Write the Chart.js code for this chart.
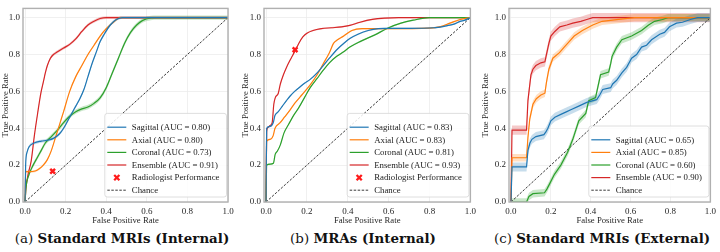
<!DOCTYPE html>
<html>
<head>
<meta charset="utf-8">
<script src="https://cdn.jsdelivr.net/npm/chart.js@4.4.1/dist/chart.umd.min.js"></script>
<style>
  body{margin:0;background:#fff;width:720px;height:252px;overflow:hidden;position:relative}
  .panel{position:absolute;top:0;width:240px;height:228px}
  .cap{position:absolute;top:230px;text-align:center;font-family:"DejaVu Serif",serif;font-size:13.4px;color:#111;white-space:nowrap}
</style>
</head>
<body>
<div class="panel" style="left:0"><canvas id="rocA"></canvas></div>
<div class="panel" style="left:240px"><canvas id="rocB"></canvas></div>
<div class="panel" style="left:480px"><canvas id="rocC"></canvas></div>
<div class="cap" id="capA" style="left:0;width:244px"></div>
<div class="cap" id="capB" style="left:246px;width:234px"></div>
<div class="cap" id="capC" style="left:484px;width:236px"></div>
<script>
// ---- data ----
const seriesNames = ['Sagittal', 'Axial', 'Coronal', 'Ensemble'];
const seriesColors = ['#1f77b4', '#ff7f0e', '#2ca02c', '#d62728'];
const axisTicks = [0, 0.2, 0.4, 0.6, 0.8, 1.0];
const capTags = ['(a)', '(b)', '(c)'];
const capTitles = ['Standard MRIs (Internal)', 'MRAs (Internal)', 'Standard MRIs (External)'];

// (a) Standard MRIs, internal
const aucA = [0.80, 0.80, 0.73, 0.91];
const bandA = [0.008, 0.006, 0.012, 0.008];
const radA = [0.136, 0.167];
const sagA_fpr = [0,0.003,0.01,0.02,0.045,0.08,0.11,0.14,0.17,0.19,0.22,0.25,0.27,0.29,0.31,0.33,0.35,0.37,0.39,0.42,0.45,0.48,1];
const sagA_tpr = [0,0.2,0.27,0.3,0.32,0.33,0.335,0.345,0.37,0.40,0.46,0.52,0.56,0.61,0.68,0.75,0.81,0.87,0.91,0.96,0.99,1,1];
const axA_fpr = [0,0.003,0.02,0.05,0.07,0.09,0.11,0.13,0.15,0.17,0.19,0.22,0.25,0.28,0.31,0.34,0.37,0.4,0.43,0.47,1];
const axA_tpr = [0,0.165,0.165,0.168,0.18,0.2,0.23,0.28,0.35,0.42,0.49,0.6,0.68,0.74,0.8,0.85,0.9,0.94,0.97,1,1];
const corA_fpr = [0,0.005,0.02,0.04,0.06,0.08,0.1,0.13,0.16,0.19,0.22,0.25,0.28,0.31,0.34,0.37,0.4,0.43,0.46,0.49,0.52,0.55,0.58,0.62,0.65,1];
const corA_tpr = [0,0.08,0.15,0.2,0.24,0.28,0.32,0.355,0.39,0.43,0.465,0.49,0.505,0.515,0.535,0.565,0.62,0.7,0.78,0.86,0.92,0.96,0.985,0.998,1,1];
const ensA_fpr = [0,0.005,0.015,0.03,0.046,0.062,0.078,0.09,0.1,0.11,0.125,0.14,0.16,0.19,0.22,0.25,0.28,0.31,0.34,0.37,0.4,1];
const ensA_tpr = [0,0.08,0.15,0.22,0.36,0.48,0.59,0.65,0.7,0.74,0.78,0.8,0.815,0.835,0.855,0.885,0.925,0.96,0.98,0.995,1,1];

// (b) MRAs, internal
const aucB = [0.83, 0.83, 0.81, 0.93];
const bandB = [0.004, 0.004, 0.004, 0.004];
const radB = [0.142, 0.826];
const sagB_fpr = [0,0.003,0.02,0.035,0.044,0.06,0.08,0.1,0.118,0.14,0.167,0.19,0.216,0.25,0.28,0.31,0.35,0.38,0.41,0.45,0.5,0.55,0.6,0.7,0.82,0.88,0.92,0.95,0.97,1];
const sagB_tpr = [0,0.4,0.41,0.43,0.47,0.49,0.52,0.55,0.575,0.6,0.625,0.645,0.665,0.7,0.74,0.78,0.83,0.86,0.887,0.91,0.93,0.94,0.942,0.942,0.945,0.955,0.965,0.98,0.985,1];
const axB_fpr = [0,0.003,0.02,0.035,0.044,0.069,0.09,0.118,0.14,0.167,0.19,0.216,0.25,0.28,0.31,0.33,0.35,0.38,0.42,0.47,0.6,0.8,0.85,0.9,0.95,1];
const axB_tpr = [0,0.33,0.34,0.36,0.40,0.43,0.46,0.5,0.535,0.57,0.6,0.635,0.69,0.75,0.81,0.86,0.88,0.9,0.93,0.94,0.94,0.943,0.95,0.97,0.99,1];
const corB_fpr = [0,0.003,0.02,0.036,0.045,0.055,0.07,0.088,0.11,0.135,0.161,0.19,0.216,0.25,0.28,0.31,0.346,0.38,0.41,0.46,0.53,0.6,0.66,0.72,0.8,1];
const corB_tpr = [0,0.2,0.205,0.21,0.26,0.275,0.31,0.375,0.42,0.47,0.513,0.57,0.62,0.67,0.715,0.755,0.79,0.815,0.84,0.87,0.905,0.945,0.97,0.986,1,1];
const ensB_fpr = [0,0.003,0.01,0.02,0.03,0.038,0.045,0.06,0.07,0.085,0.1,0.118,0.13,0.145,0.16,0.18,0.2,0.23,0.27,0.32,0.37,0.41,0.46,0.52,0.58,0.65,1];
const ensB_tpr = [0,0.38,0.405,0.415,0.43,0.53,0.565,0.59,0.64,0.69,0.73,0.77,0.795,0.826,0.86,0.895,0.915,0.93,0.94,0.945,0.95,0.958,0.975,0.99,0.997,1,1];

// (c) Standard MRIs, external
const aucC = [0.65, 0.85, 0.60, 0.90];
const bandC = [0.024, 0.02, 0.02, 0.025];
const sagC_fpr = [0,0.005,0.01,0.078,0.085,0.095,0.105,0.125,0.165,0.175,0.185,0.2,0.22,0.25,0.28,0.3,0.34,0.38,0.43,0.445,0.46,0.5,0.51,0.53,0.556,0.58,0.605,0.63,0.655,0.68,0.705,0.746,0.77,0.795,0.83,0.86,0.9,0.935,1];
const sagC_tpr = [0,0.19,0.19,0.19,0.28,0.32,0.34,0.355,0.365,0.38,0.4,0.44,0.46,0.475,0.49,0.5,0.52,0.54,0.555,0.58,0.61,0.62,0.64,0.66,0.7,0.73,0.78,0.8,0.84,0.85,0.88,0.91,0.92,0.95,0.97,0.975,0.99,1,1];
const axC_fpr = [0,0.005,0.01,0.078,0.085,0.094,0.11,0.127,0.15,0.17,0.178,0.19,0.21,0.243,0.267,0.284,0.317,0.358,0.41,0.457,0.54,0.62,1];
const axC_tpr = [0,0.24,0.24,0.24,0.35,0.45,0.53,0.56,0.58,0.59,0.65,0.72,0.78,0.81,0.84,0.86,0.9,0.93,0.96,0.98,0.99,1,1];
const corC_fpr = [0,0.078,0.09,0.11,0.168,0.18,0.193,0.218,0.25,0.284,0.31,0.34,0.375,0.39,0.424,0.435,0.449,0.49,0.5,0.507,0.53,0.556,0.605,0.655,0.69,0.72,0.76,0.787,1];
const corC_tpr = [0,0,0.03,0.045,0.05,0.07,0.097,0.15,0.2,0.27,0.34,0.44,0.48,0.55,0.566,0.62,0.69,0.705,0.75,0.79,0.84,0.88,0.9,0.93,0.96,0.98,0.99,1,1];
const ensC_fpr = [0,0.005,0.01,0.078,0.085,0.1,0.11,0.125,0.15,0.17,0.178,0.19,0.2,0.22,0.245,0.28,0.31,0.35,0.38,0.41,1];
const ensC_tpr = [0,0.39,0.39,0.39,0.55,0.69,0.72,0.74,0.755,0.76,0.8,0.86,0.9,0.925,0.95,0.96,0.97,0.98,0.99,1,1];

const chanceLine = [[0, 1], [0, 1]];

// ---- drawing ----
const serif = '"Liberation Serif", "Times New Roman", serif';
const tickFont = {family: serif, size: 9};
const labelFont = {family: serif, size: 8.7};
const pts = (xs, ys, d=0) => xs.map((x,i)=> ({x, y: ys[i] + d}));

const rocLegend = {
  id: 'rocLegend',
  afterDatasetsDraw(chart, args, opts){
    const ctx = chart.ctx, a = chart.chartArea;
    const items = opts.items, rowH = 12.6;
    ctx.save();
    ctx.font = '8.8px ' + serif;
    const tw = Math.max(...items.map(it=> ctx.measureText(it.text).width));
    const w = 27 + tw + 7, h = 8 + rowH*items.length;
    const x0 = a.right - 1.5 - w, y0 = a.bottom - 5 - h;
    ctx.fillStyle = 'rgba(255,255,255,0.85)';
    ctx.strokeStyle = '#d6d6d6';
    ctx.lineWidth = 0.8;
    ctx.beginPath(); ctx.roundRect(x0, y0, w, h, 2.5); ctx.fill(); ctx.stroke();
    items.forEach((it,i)=>{
      const cy = y0 + 7.5 + rowH*(i+0.5);
      ctx.save();
      if (it.kind === 'marker'){
        ctx.strokeStyle = it.color; ctx.lineWidth = 2.3;
        const cx = x0 + 12, r = 2.6;
        ctx.beginPath();
        ctx.moveTo(cx-r, cy-r); ctx.lineTo(cx+r, cy+r);
        ctx.moveTo(cx+r, cy-r); ctx.lineTo(cx-r, cy+r);
        ctx.stroke();
      } else {
        ctx.strokeStyle = it.color; ctx.lineWidth = it.kind === 'dash' ? 0.9 : 1.2;
        if (it.kind === 'dash') ctx.setLineDash([2.5, 1.5]);
        ctx.beginPath(); ctx.moveTo(x0+2.5, cy); ctx.lineTo(x0+21.5, cy); ctx.stroke();
      }
      ctx.restore();
      ctx.fillStyle = '#222'; ctx.textBaseline = 'middle';
      ctx.fillText(it.text, x0 + 27, cy + 0.5);
    });
    ctx.restore();
  }
};

const frame = {
  id: 'frame',
  afterDraw(chart){
    const ctx = chart.ctx, a = chart.chartArea;
    ctx.save();
    ctx.strokeStyle = '#b0b0b0'; ctx.lineWidth = 1.4;
    ctx.strokeRect(a.left, a.top, a.right - a.left, a.bottom - a.top);
    ctx.restore();
  }
};

function buildRoc(canvasId, curves, auc, band, rad, smooth, areaLeft, areaRight){
  const datasets = [];
  const items = [];
  curves.forEach((c,i)=>{
    const col = seriesColors[i];
    const interp = smooth ? {cubicInterpolationMode: 'monotone'} : {tension: 0};
    datasets.push({data: pts(c[0], c[1], band[i]), borderWidth: 0, pointRadius: 0, fill: false, order: 5, ...interp});
    datasets.push({data: pts(c[0], c[1], -band[i]), borderWidth: 0, pointRadius: 0, fill: '-1',
      backgroundColor: col + '40', order: 5, ...interp});
    datasets.push({data: pts(c[0], c[1]), borderColor: col, borderWidth: 1.2, pointRadius: 0, fill: false, order: 1, ...interp});
    items.push({text: `${seriesNames[i]} (AUC = ${auc[i].toFixed(2)})`, color: col, kind: 'line'});
  });
  if (rad){
    datasets.push({data: [{x: rad[0], y: rad[1]}], showLine: false, pointStyle: 'crossRot',
      pointRadius: 3.4, pointBorderWidth: 2.4, pointBorderColor: '#ff1a1a', pointBackgroundColor: '#ff1a1a', order: 0});
    items.push({text: 'Radiologist Performance', color: '#ff1a1a', kind: 'marker'});
  }
  datasets.push({data: pts(chanceLine[0], chanceLine[1]), borderColor: '#222', borderWidth: 0.9,
    borderDash: [2.5, 1.5], pointRadius: 0, fill: false, order: 2});
  items.push({text: 'Chance', color: '#222', kind: 'dash'});

  const axisBase = {
    type: 'linear',
    grid: {color: '#ececec', lineWidth: 0.8, drawTicks: false},
    border: {display: false},
    ticks: {font: tickFont, color: '#262626', padding: 3, autoSkip: false, maxRotation: 0,
      callback: v => v.toFixed(1)},
    afterBuildTicks: s => { s.ticks = axisTicks.map(v => ({value: v})); }
  };
  new Chart(document.getElementById(canvasId), {
    type: 'line',
    data: {datasets},
    plugins: [rocLegend, frame],
    options: {
      responsive: true, maintainAspectRatio: false, animation: false,
      layout: {padding: {left: 0, right: 240 - areaRight, top: 1, bottom: 0}},
      plugins: {legend: {display: false}, tooltip: {enabled: false}, rocLegend: {items}},
      scales: {
        x: {...axisBase, min: -0.01, max: 1.0,
          afterFit: s => { s.height = 26; },
          ticks: {...axisBase.ticks, padding: 4},
          title: {display: true, text: 'False Positive Rate', font: labelFont, color: '#262626', padding: {top: 0, bottom: 2}}},
        y: {...axisBase, min: 0, max: 1.05,
          afterFit: s => { s.width = areaLeft; },
          title: {display: true, text: 'True Positive Rate', font: labelFont, color: '#262626', padding: {top: 0, bottom: 0}}}
      }
    }
  });
}

buildRoc('rocA', [[sagA_fpr, sagA_tpr], [axA_fpr, axA_tpr], [corA_fpr, corA_tpr], [ensA_fpr, ensA_tpr]],
  aucA, bandA, radA, true, 23, 228);
buildRoc('rocB', [[sagB_fpr, sagB_tpr], [axB_fpr, axB_tpr], [corB_fpr, corB_tpr], [ensB_fpr, ensB_tpr]],
  aucB, bandB, radB, true, 24, 231);
buildRoc('rocC', [[sagC_fpr, sagC_tpr], [axC_fpr, axC_tpr], [corC_fpr, corC_tpr], [ensC_fpr, ensC_tpr]],
  aucC, bandC, null, false, 29, 234);

['capA', 'capB', 'capC'].forEach((id, i)=>{
  const el = document.getElementById(id);
  el.innerHTML = `${capTags[i]} <b>${capTitles[i]}</b>`;
});
</script>
</body>
</html>
